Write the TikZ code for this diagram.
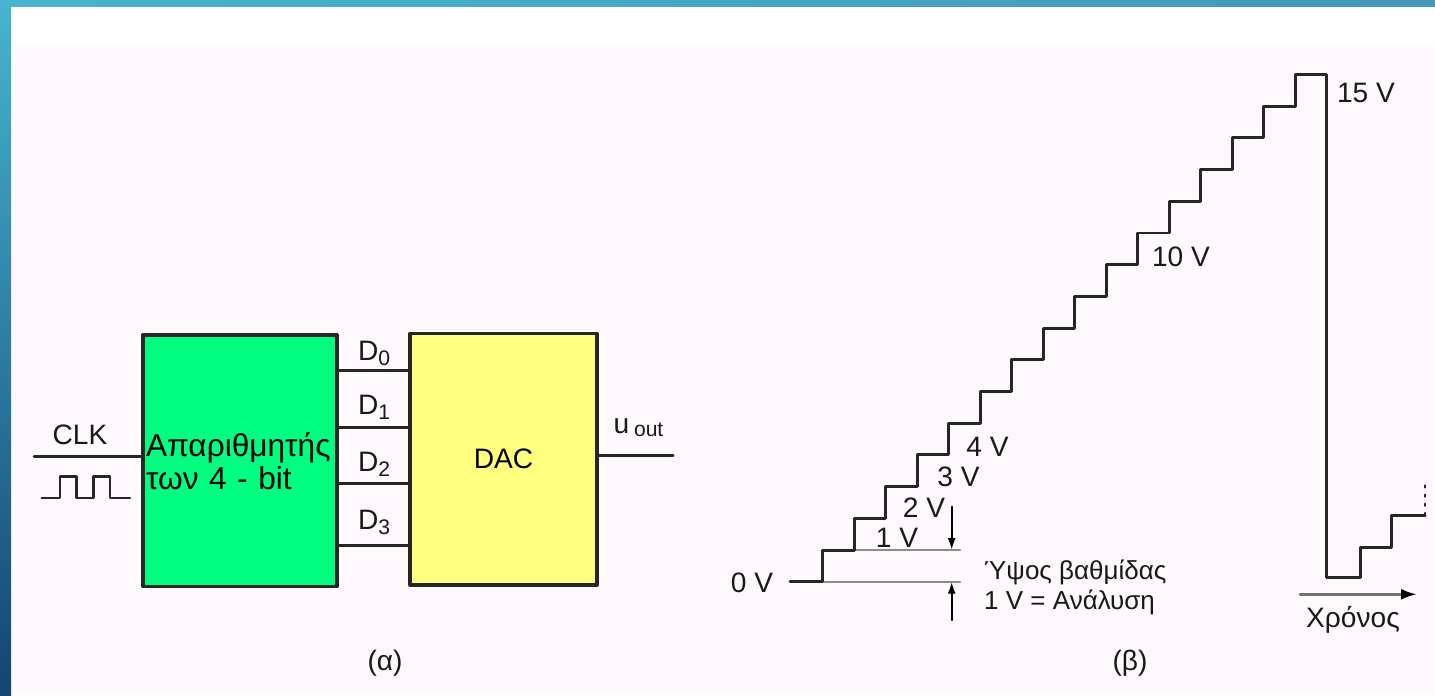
\documentclass[tikz,border=0pt]{standalone}
\usepackage{fontspec}
\setmainfont{Liberation Sans}
\usetikzlibrary{arrows.meta,positioning}
\definecolor{pagepink}{RGB}{255,248,253}
\definecolor{framelight}{RGB}{70,181,208}
\definecolor{framemid}{RGB}{92,195,217}
\definecolor{frameright}{RGB}{68,152,186}
\definecolor{framedark}{RGB}{19,69,112}
\definecolor{cntgreen}{RGB}{0,255,128}
\definecolor{dacyellow}{RGB}{255,255,128}
\begin{document}
\begin{tikzpicture}[line cap=round,line join=round,
  lbl/.style={font=\fontsize{8}{8.8}\selectfont,text=black!90,inner sep=1pt},
  blockbox/.style={draw=black!85,line width=0.9pt,inner sep=0pt,minimum height=2.517cm},
  wire/.style={line width=0.85pt,draw=black!85},
  refline/.style={line width=0.6pt,draw=black!45}]
  \useasboundingbox (0,0) rectangle (14.35,6.95);
  % frame and page
  \fill[pagepink] (0,0) rectangle (14.35,6.95);
  \fill[white] (0.11,6.48) rectangle (14.35,6.88);
  \shade[top color=framelight,bottom color=framedark] (0,0) rectangle (0.11,6.95);
  \shade[left color=framelight,middle color=framemid,right color=frameright] (0,6.88) rectangle (14.35,6.95);

  % (a) counter and DAC
  \node[blockbox,fill=cntgreen,minimum width=1.94cm,text width=1.88cm,align=left,
        font=\fontsize{9}{8}\selectfont] (cnt) at (2.40,2.342) {Απαριθμητής\\των 4 - bit};
  \node[blockbox,fill=dacyellow,minimum width=1.87cm,font=\fontsize{8}{9}\selectfont] (dac) at (5.035,2.358) {DAC};
  \coordinate (d0) at (3.70,3.243);
  \coordinate (d1) at (3.70,2.677);
  \coordinate (d2) at (3.70,2.117);
  \coordinate (d3) at (3.70,1.493);
  \draw[wire] (cnt.east |- d0) -- (dac.west |- d0);
  \draw[wire] (cnt.east |- d1) -- (dac.west |- d1);
  \draw[wire] (cnt.east |- d2) -- (dac.west |- d2);
  \draw[wire] (cnt.east |- d3) -- (dac.west |- d3);
  \node[lbl] (d0lbl) at (3.75,3.42) {D\textsubscript{0}};
  \node[lbl] (d1lbl) at (3.75,2.88) {D\textsubscript{1}};
  \node[lbl] (d2lbl) at (3.75,2.31) {D\textsubscript{2}};
  \node[lbl] (d3lbl) at (3.75,1.73) {D\textsubscript{3}};
  \coordinate (clkin) at (0.34,2.383);
  \draw[wire] (clkin) -- (clkin -| cnt.west);
  \node[lbl] (clk) at (0.80,2.60) {CLK};
  \draw[wire,line width=0.7pt] (0.417,1.97) -- (0.60,1.97) -- (0.60,2.183) -- (0.767,2.183)
    -- (0.767,1.97) -- (0.933,1.97) -- (0.933,2.183) -- (1.10,2.183) -- (1.10,1.97) -- (1.30,1.97);
  \coordinate (uend) at (6.73,2.40);
  \draw[wire] (dac.east |- uend) -- (uend);
  \node[lbl,anchor=base west,inner sep=0pt] (uout) at (6.13,2.62) {u\,\textsubscript{out}};
  \node[lbl] (capa) at (3.85,0.32) {(α)};

  % (b) staircase output
  \coordinate (z0) at (7.90,1.133);
  \coordinate (lv0) at (9.60,1.133);
  \coordinate (lv1) at (9.60,1.450);
  \draw[refline] (8.227,1.133) -- (lv0);
  \draw[refline] (8.542,1.450) -- (lv1);
  \draw[wire] (z0) -- ++(0.327,0)
    -- ++(0,0.317) -- ++(0.315,0) -- ++(0,0.317) -- ++(0.315,0)
    -- ++(0,0.317) -- ++(0.315,0) -- ++(0,0.317) -- ++(0.315,0)
    -- ++(0,0.317) -- ++(0.315,0) -- ++(0,0.317) -- ++(0.315,0)
    -- ++(0,0.317) -- ++(0.315,0) -- ++(0,0.317) -- ++(0.315,0)
    -- ++(0,0.317) -- ++(0.315,0) -- ++(0,0.317) -- ++(0.315,0)
    -- ++(0,0.317) -- ++(0.315,0) -- ++(0,0.317) -- ++(0.315,0)
    -- ++(0,0.317) -- ++(0.315,0) -- ++(0,0.317) -- ++(0.315,0)
    -- ++(0,0.317) -- ++(0.315,0) -- ++(0,0.317) -- ++(0.315,0)
    coordinate (ztop)
    -- (ztop |- 0,1.18) -- (13.60,1.18) -- (13.60,1.48) -- (13.917,1.48)
    -- (13.917,1.80) -- (14.25,1.80) coordinate (zend);
  \draw[wire,line width=0.6pt,dotted] (zend) -- ++(0,0.32);
  \node[lbl] (v0) at (7.52,1.12) {0 V};
  \node[lbl] (v1) at (8.97,1.575) {1 V};
  \node[lbl] (v2) at (9.24,1.87) {2 V};
  \node[lbl] (v3) at (9.585,2.18) {3 V};
  \node[lbl] (v4) at (9.875,2.48) {4 V};
  \node[lbl] (v10) at (11.81,4.38) {10 V};
  \node[lbl] (v15) at (13.66,6.02) {15 V};
  % step height
  \coordinate (dimtop) at (9.517,1.883);
  \coordinate (dimbot) at (9.517,0.75);
  \draw[line width=0.6pt,-{Latex[length=1.2mm,width=0.8mm]}] (dimtop) -- (dimtop |- lv1);
  \draw[line width=0.6pt,-{Latex[length=1.2mm,width=0.8mm]}] (dimbot) -- (dimbot |- lv0);
  \node[lbl,align=left,anchor=west,font=\fontsize{7.4}{8.6}\selectfont] (res) at (9.80,1.075) {Ύψος βαθμίδας\\1 V = Ανάλυση};
  % time axis
  \coordinate (t0) at (13.00,1.007);
  \coordinate (t1) at (14.17,1.007);
  \draw[line width=0.8pt,black!55,-{Latex[length=1.6mm,width=1.1mm,color=black]}] (t0) -- (t1);
  \node[lbl] (chronos) at (13.53,0.75) {Χρόνος};
  \node[lbl] (capb) at (11.30,0.32) {(β)};
\end{tikzpicture}
\end{document}
